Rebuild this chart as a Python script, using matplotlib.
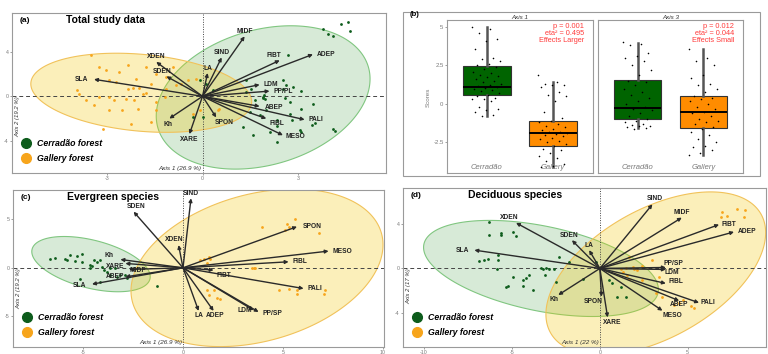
import numpy as np
import matplotlib
matplotlib.use('Agg')
import matplotlib.pyplot as plt
import matplotlib.transforms as mtransforms
from matplotlib.lines import Line2D
from matplotlib.patches import Rectangle
from matplotlib.colors import to_rgba

plt.rcParams['font.family'] = ['Liberation Sans', 'DejaVu Sans']
plt.rcParams['axes.unicode_minus'] = False

# ---------------- data ----------------
# panel (a) total study data: variable loadings
a_names = ['MIDF', 'SIND', 'LA', 'FIBT', 'ADEP', 'LDM', 'PP/PL', 'ABEP', 'PALI',
           'FIBL', 'MESO', 'SPON', 'XARE', 'Kh', 'SLA', 'SDEN', 'XDEN']
a_x = [1.32, 0.60, 0.16, 2.42, 3.46, 1.79, 2.10, 1.79, 3.20, 2.00, 2.52, 0.43, -0.41, -1.04, -3.40, -1.13, -1.45]
a_y = [5.40, 3.50, 2.10, 3.24, 3.78, 1.05, 0.47, -0.90, -2.10, -2.00, -3.50, -1.90, -3.40, -2.00, 1.53, 1.80, 3.10]
a_cer_x = [3.78, 4.33, 4.57, 4.62, 3.94, 4.10, 2.68, 2.53, 2.63, 2.84, 3.10, 1.90, 1.95, 1.37, 1.53, 1.64,
           2.58, 2.74, 1.48, 2.32, 2.32, 2.79, 3.05, 3.10, 3.42, 3.52, 4.10, 4.15, 1.58, 2.32, 2.53, 0.32,
           0.01, -0.30, -0.09, 0.12, 1.37, 2.00, 1.79, 1.27, 2.74, 2.11, 3.10, 3.47, 1.92, 1.88]
a_cer_y = [6.10, 6.49, 6.70, 5.89, 5.65, 5.41, 3.69, 1.44, 0.99, 0.84, 0.45, -0.06, -0.21, 0.39, 0.69, -0.36,
           -0.15, -0.51, -1.41, -2.16, -2.70, -2.16, -3.06, -3.21, -2.61, -2.40, -2.91, -3.12, -3.51, -4.11, 0.69, 0.54,
           -1.86, -1.86, 1.44, 1.14, 1.44, -1.26, -1.71, -2.76, -1.56, -3.21, -1.11, -0.66, 0.09, -0.15]
a_gal_x = [-3.50, -3.24, -3.03, -2.35, -2.92, -2.71, -2.09, -1.61, -1.46, -2.35, -2.19, -1.98, -1.88, -1.77,
           -3.40, -3.24, -2.92, -2.77, -2.40, -2.14, -1.46, -3.92, -3.87, -3.64, -3.13, -2.24, -1.61, -1.46,
           -1.19, -1.14, -0.83, -0.67, -0.46, 0.48, 0.53, -2.51, -2.03, -2.92, -1.14, -2.61, -1.77, -0.93,
           -0.20, -0.09, -0.30]
a_gal_y = [3.69, 2.64, 2.34, 2.79, 1.44, 1.29, 1.59, 1.14, 2.04, 0.69, 0.78, 0.78, 0.24, 0.30,
           -0.81, -0.06, -0.06, -0.36, -0.21, -0.36, -0.51, 0.54, 0.24, -0.36, -2.91, -2.46, -2.31, -1.26,
           -0.06, 0.69, 0.99, 1.14, 1.44, -1.26, -1.11, -1.26, -1.11, -1.26, 1.74, 2.19, 2.64, 2.64,
           1.59, -1.26, -1.56]
# ellipses: centre x, centre y, x half-extent, y half-extent, tilt (deg)
a_ell_cer = (1.90, -0.10, 3.35, 6.45, 15)
a_ell_gal = (-1.92, 0.32, 3.46, 3.56, -13)

# panel (c) evergreen species
c_names = ['SIND', 'SDEN', 'XDEN', 'SPON', 'MESO', 'FIBL', 'FIBT', 'PALI', 'PP/SP', 'LDM',
           'ADEP', 'LA', 'Kh', 'XARE', 'MIDF', 'ABEP', 'SLA']
c_x = [0.40, -2.47, -0.22, 5.70, 7.28, 5.28, 1.53, 6.03, 3.78, 3.53, 1.53, 0.78, -3.13, -2.88, -2.70, -2.88, -4.55]
c_y = [7.15, 5.77, 2.34, 4.23, 1.72, 0.62, -0.24, -2.13, -4.54, -4.36, -4.43, -4.43, 0.86, 0.45, -0.17, -0.93, -1.68]
c_cer_x = [-6.63, -6.38, -5.88, -5.80, -5.63, -5.30, -5.05, -5.38, -5.05, -4.63, -4.55, -4.67, -4.47, -4.30,
           -4.13, -4.05, -3.97, -3.80, -3.63, -3.38, -3.13, -2.80, -5.13, -4.13, -1.30, -3.63, -3.30, -2.88]
c_cer_y = [0.89, 1.03, 0.89, 0.79, 1.31, 1.20, 1.41, 0.69, 0.62, 0.34, 0.17, 0.03, 0.79, 0.62,
           0.79, 0.10, -0.24, -0.41, -0.07, 0.03, -0.69, -1.00, -1.20, -1.44, -1.89, -0.76, -0.93, -0.76]
c_gal_x = [5.62, 5.20, 5.28, 5.12, 3.95, 6.78, 0.87, 1.03, 1.28, 1.37, 1.20, 3.45, 3.53, 3.62,
           4.78, 5.28, 5.70, 5.70, 7.12, 7.03, 1.20, 1.53, 1.70, 1.87, 1.28]
c_gal_y = [4.98, 4.47, 4.23, 3.88, 4.23, 3.54, 0.79, 0.86, 1.07, 0.89, 0.52, 0.03, -0.07, 0.00,
           -2.30, -2.13, -2.30, -2.71, -2.30, -2.65, -2.30, -2.23, -3.06, -3.16, -2.82]
c_ell_cer = (-4.60, 0.38, 2.96, 2.84, -27)
c_ell_gal = (3.70, 0.00, 6.30, 8.10, 17)

# panel (d) deciduous species
d_names = ['SIND', 'MIDF', 'FIBT', 'ADEP', 'PP/SP', 'LDM', 'FIBL', 'ABEP', 'PALI', 'MESO',
           'XARE', 'SPON', 'Kh', 'SLA', 'XDEN', 'SDEN', 'LA']
d_x = [2.99, 4.66, 6.78, 7.63, 3.75, 3.75, 3.75, 4.51, 5.64, 3.56, 0.44, 0.09, -2.37, -7.14, -4.77, -1.59, -0.61]
d_y = [5.74, 4.55, 3.93, 3.27, 0.09, -0.09, -1.34, -2.89, -3.07, -3.78, -4.38, -2.53, -2.38, 1.64, 4.08, 2.53, 1.64]
d_cer_x = [-6.29, -6.33, -5.63, -5.63, -4.96, -4.77, -6.86, -6.57, -6.38, -5.81, -5.81, -5.87, -4.96, -4.39,
           -4.20, -4.02, -5.34, -5.25, -4.39, -3.83, -3.35, -3.26, -3.07, -2.92, -2.59, -3.11, -2.50, -2.31,
           -0.23, -0.98, 0.53, 0.68, 1.00, 1.48, 1.19, -1.74]
d_cer_y = [4.17, 2.98, 3.13, 2.98, 3.27, 2.89, 0.68, 0.74, 0.89, 1.19, 0.74, -0.09, -0.74, -1.04,
           -0.89, -0.60, -1.70, -1.58, -1.58, -1.93, 0.00, -0.09, 0.00, -0.09, -0.09, -0.60, -1.19, 0.98,
           0.60, -0.92, -1.04, -1.34, -2.59, -2.59, -1.64, 0.60]
d_gal_x = [6.97, 7.25, 7.82, 8.20, 8.26, 6.88, 1.67, 2.99, 2.42, 1.95, 1.86, 1.48, 1.19, 1.29,
           1.57, 1.67, 3.37, 2.42, 3.18, 3.56, 4.51, 5.17, 5.36, 4.70, 4.22, 2.14]
d_gal_y = [5.06, 4.67, 5.36, 4.61, 5.27, 4.61, 1.04, 0.74, 0.21, -0.09, 0.15, 0.00, -0.09, -0.30,
           -0.60, -0.98, -0.74, -1.04, -2.23, -2.59, -3.13, -3.36, -3.57, -2.83, -3.27, -0.15]
d_ell_cer = (-3.35, 0.00, 6.68, 4.30, -26)
d_ell_gal = (3.18, -0.45, 6.25, 7.30, 30)

# panel (b) PCA scores by forest type
b_groups = ['Cerradão', 'Gallery']
b_axes = ['Axis 1', 'Axis 3']
# whislo, q1, median, q3, whishi
b_stats = {
    'Axis 1': [(-0.8, 0.55, 1.1, 2.45, 5.0), (-4.1, -2.7, -1.9, -1.1, 1.4)],
    'Axis 3': [(-1.56, -1.0, -0.27, 1.56, 3.96), (-3.3, -1.55, -0.53, 0.52, 3.6)],
}
b_scores = {
    'Axis 1': [
        [5.0, 4.85, 4.6, 4.2, 4.1, 3.6, 3.0, 2.9, 2.8, 2.6, 2.5, 2.4, 2.3, 2.1, 2.0, 1.9, 1.8, 1.75,
         1.6, 1.5, 1.4, 1.3, 1.2, 1.15, 1.1, 1.05, 1.0, 0.9, 0.85, 0.7, 0.6, 0.5, 0.4, 0.35, 0.3,
         0.2, -0.2, -0.3, -0.4, -0.5, -0.7, -0.8],
        [1.9, 1.4, 1.3, 1.25, 1.2, 1.1, 0.8, 0.6, 0.5, 0.2, -0.5, -0.9, -1.1, -1.2, -1.3, -1.4, -1.5,
         -1.6, -1.7, -1.8, -1.85, -1.9, -1.95, -2.0, -2.1, -2.2, -2.3, -2.4, -2.5, -2.6, -2.7, -2.9,
         -3.0, -3.2, -3.4, -3.5, -3.7, -3.9, -4.0, -4.1]],
    'Axis 3': [
        [4.0, 3.9, 3.8, 3.3, 3.1, 3.0, 2.8, 2.5, 2.2, 1.9, 1.5, 1.4, 1.2, 1.0, 0.8, 0.6, 0.4, 0.2,
         0.0, -0.2, -0.3, -0.4, -0.6, -0.8, -1.0, -1.1, -1.2, -1.3, -1.35, -1.4, -1.45, -1.5, -1.55, -1.6],
        [3.6, 3.0, 2.8, 2.5, 1.9, 1.7, 1.3, 1.2, 1.0, 0.8, 0.5, 0.4, 0.3, 0.2, 0.0, -0.2, -0.3, -0.5,
         -0.6, -0.8, -1.0, -1.1, -1.2, -1.3, -1.5, -1.6, -1.8, -2.0, -2.3, -2.5, -2.7, -2.8, -3.0, -3.2, -3.3]],
}
b_text = {
    'Axis 1': ['p = 0.001', 'eta² = 0.495', 'Effects Larger'],
    'Axis 3': ['p = 0.012', 'eta² = 0.044', 'Effects Small'],
}

# label placement (ha, va, dx, dy in points)
a_lab = {'MIDF': ('center', 'bottom', 0, 1), 'SIND': ('center', 'bottom', 0, 1), 'LA': ('center', 'bottom', 0, 1),
         'FIBT': ('right', 'bottom', 1, 1), 'ADEP': ('left', 'center', 3, 0), 'LDM': ('left', 'center', 3, 0),
         'PP/PL': ('left', 'center', 3, 0), 'ABEP': ('left', 'center', 4, -1), 'PALI': ('left', 'center', 3, 0),
         'FIBL': ('left', 'top', 2, -1), 'MESO': ('left', 'center', 2, -1), 'SPON': ('left', 'top', -1, -1),
         'XARE': ('center', 'top', 0, -1.5), 'Kh': ('center', 'top', -1, -1.5), 'SLA': ('right', 'center', -4, 0),
         'SDEN': ('right', 'bottom', 4, 1), 'XDEN': ('center', 'bottom', 0, 1.5)}
c_lab = {'SIND': ('center', 'bottom', 0, 1), 'SDEN': ('center', 'bottom', 2, 1.5), 'XDEN': ('center', 'bottom', -3, 1.5),
         'SPON': ('left', 'center', 4, 0), 'MESO': ('left', 'center', 3, 0), 'FIBL': ('left', 'center', 3, 0),
         'FIBT': ('left', 'top', 2, -1), 'PALI': ('left', 'center', 3, 0), 'PP/SP': ('left', 'center', 3, -1),
         'LDM': ('right', 'center', -1, 0), 'ADEP': ('center', 'top', 1, -1), 'LA': ('center', 'top', 0, -1),
         'Kh': ('right', 'bottom', -5, 0.5), 'XARE': ('right', 'top', -1, 0.5), 'MIDF': ('left', 'center', 0, -1),
         'ABEP': ('right', 'center', -1, 0), 'SLA': ('right', 'center', -4, -1)}
d_lab = {'SIND': ('center', 'bottom', 2, 1.5), 'MIDF': ('center', 'bottom', 0, 1.5), 'FIBT': ('left', 'center', 2, 0),
         'ADEP': ('left', 'center', 3, 0), 'PP/SP': ('left', 'bottom', -2, 0), 'LDM': ('left', 'top', -1, 0),
         'FIBL': ('left', 'bottom', 2, -1), 'ABEP': ('center', 'top', 0, 0), 'PALI': ('left', 'center', 1, 0),
         'MESO': ('center', 'top', 7, -1), 'XARE': ('center', 'top', 3, -1), 'SPON': ('right', 'top', 1, -1),
         'Kh': ('center', 'top', -3, -1), 'SLA': ('right', 'center', -4, 0), 'XDEN': ('center', 'bottom', -5, 1),
         'SDEN': ('center', 'bottom', -2, 1), 'LA': ('center', 'bottom', 0, 1)}

CER = '#0d5c1c'
GAL = '#f7a51c'
FRAME = '#9a9a9a'
TICK = '#7a7a7a'
ARROW = '#2a2a2a'

W, H = 768, 354
fig = plt.figure(figsize=(W / 100, H / 100), dpi=100)
fig.patch.set_facecolor('white')


def px_axes(l, t, r, b):
    return fig.add_axes([l / W, 1 - b / H, (r - l) / W, (b - t) / H])


def draw_ellipse(ax, e, color, edge, alpha):
    cx, cy, rx, ry, phi = e
    t = np.linspace(0, 2 * np.pi, 300)
    ex = cx + rx * np.cos(t)
    ey = cy + ry * np.sin(t + np.radians(phi))
    ax.fill(ex, ey, facecolor=to_rgba(color, alpha), edgecolor=edge, lw=0.8, zorder=1)


def biplot(ax, names, lx, ly, labs, cx, cy, gx, gy, ell_c, ell_g, xlim, ylim, xticks, yticks,
           letter, title, title_x, xlab, ylab):
    draw_ellipse(ax, ell_c, '#3a9a3a', '#80c680', 0.2)
    draw_ellipse(ax, ell_g, '#f2c500', '#f1c25a', 0.27)
    ax.axhline(0, color='#444444', lw=0.7, ls=(0, (4, 3)), zorder=2)
    ax.axvline(0, color='#444444', lw=0.7, ls=(0, (1, 1.5)), zorder=2)
    ax.scatter(cx, cy, s=4, color=CER, zorder=3, lw=0)
    ax.scatter(gx, gy, s=4, color=GAL, zorder=3, lw=0)
    for n, x, y in zip(names, lx, ly):
        ax.annotate('', xy=(x, y), xytext=(0, 0),
                    arrowprops=dict(arrowstyle='-|>', color=ARROW, lw=1.0, mutation_scale=5,
                                    shrinkA=0, shrinkB=0), zorder=4)
        ha, va, dx, dy = labs[n]
        ax.annotate(n, xy=(x, y), xytext=(dx, dy), textcoords='offset points', ha=ha, va=va,
                    fontsize=4.8, fontweight='bold', color='#222222', zorder=5)
    ax.set_xlim(*xlim)
    ax.set_ylim(*ylim)
    ax.set_xticks(xticks)
    ax.set_yticks(yticks)
    ax.set_xticklabels([str(v) for v in xticks])
    ax.set_yticklabels([str(v) for v in yticks])
    ax.tick_params(labelsize=3.8, colors=TICK, length=1.5, pad=0.8, width=0.5)
    for s in ax.spines.values():
        s.set_color(FRAME)
        s.set_linewidth(0.8)
    ax.text(0.02, 0.955, letter, transform=ax.transAxes, fontsize=6, fontweight='bold', va='center')
    ax.text(title_x, 0.955, title, transform=ax.transAxes, fontsize=7.5, fontweight='bold', va='center')
    tx = mtransforms.blended_transform_factory(ax.transData, ax.transAxes)
    ax.text(-0.05, 0.012, xlab, transform=tx, ha='right', va='bottom', fontsize=4.6, style='italic', color='#333333')
    ty = mtransforms.blended_transform_factory(ax.transAxes, ax.transData)
    ax.text(0.008, 0, ylab, transform=ty, ha='left', va='top', rotation=90, fontsize=4.3, style='italic',
            color='#333333')
    handles = [Line2D([], [], marker='o', ls='', color=CER, markersize=7),
               Line2D([], [], marker='o', ls='', color=GAL, markersize=7)]
    ax.legend(handles, ['Cerradão forest', 'Gallery forest'], loc='lower left', bbox_to_anchor=(0.005, 0.02),
              frameon=False, prop=dict(size=6.3, weight='bold', style='italic'), labelspacing=0.65,
              handletextpad=0.7, handlelength=1.2, borderpad=0.3)


ax_a = px_axes(12, 13, 386, 173)
biplot(ax_a, a_names, a_x, a_y, a_lab, a_cer_x, a_cer_y, a_gal_x, a_gal_y, a_ell_cer, a_ell_gal,
       (-5.97, 5.75), (-6.9, 7.5), [-3, 0, 3], [-4, 0, 4], '(a)', 'Total study data', 0.144,
       'Axis 1 (26.9 %)', 'Axis 2 (19.2 %)')

ax_c = px_axes(13, 190, 384, 347)
biplot(ax_c, c_names, c_x, c_y, c_lab, c_cer_x, c_cer_y, c_gal_x, c_gal_y, c_ell_cer, c_ell_gal,
       (-8.5, 10.05), (-8.14, 8.0), [-5, 0, 5, 10], [-5, 0, 5], '(c)', 'Evergreen species', 0.146,
       'Axis 1 (26.9 %)', 'Axis 2 (19.2 %)')

ax_d = px_axes(403, 188, 766, 347)
biplot(ax_d, d_names, d_x, d_y, d_lab, d_cer_x, d_cer_y, d_gal_x, d_gal_y, d_ell_cer, d_ell_gal,
       (-11.2, 9.45), (-7.03, 7.2), [-10, -5, 0, 5], [-4, 0, 4], '(d)', 'Deciduous species', 0.18,
       'Axis 1 (22 %)', 'Axis 2 (17 %)')

# ---------------- panel (b) ----------------
fig.add_artist(Rectangle((403 / W, 1 - 176 / H), (760 - 403) / W, (176 - 12) / H, transform=fig.transFigure,
                         fill=False, ec=FRAME, lw=0.8))
fig.text(410 / W, 1 - 15 / H, '(b)', fontsize=5.5, fontweight='bold', va='center')
fig.text(428 / W, 1 - 97 / H, 'Scores', rotation=90, fontsize=4.5, color=TICK, ha='center', va='center')

facet_px = [(447, 593), (598, 743)]
box_colors = ['#006400', '#ff8c00']
for k, axis_name in enumerate(b_axes):
    l, r = facet_px[k]
    ax = px_axes(l, 20, r, 173)
    stats = []
    for (lo, q1, med, q3, hi), lab in zip(b_stats[axis_name], b_groups):
        stats.append(dict(whislo=lo, q1=q1, med=med, q3=q3, whishi=hi, label=lab))
    bp = ax.bxp(stats, positions=[1, 2], widths=0.72, patch_artist=True, showfliers=False, showcaps=False,
                boxprops=dict(lw=0.8, edgecolor='#333333'),
                whiskerprops=dict(color='#555555', lw=1.8),
                medianprops=dict(color='black', lw=1.4))
    for patch, col in zip(bp['boxes'], box_colors):
        patch.set_facecolor(col)
    for i, vals in enumerate(b_scores[axis_name]):
        n = len(vals)
        jit = ((np.arange(n) * 0.618034) % 1 - 0.5) * 0.45
        ax.scatter(i + 1 + jit, vals, s=1.3, color='black', zorder=5, lw=0)
    ax.set_xlim(0.4, 2.6)
    ax.set_ylim(-4.48, 5.45)
    ax.set_xticks([])
    for i, lab in enumerate(b_groups):
        ax.text(i + 1, 0.01, lab, transform=mtransforms.blended_transform_factory(ax.transData, ax.transAxes),
                ha='center', va='bottom', fontsize=5.5, style='italic', color=TICK)
    if k == 0:
        ax.set_yticks([-2.5, 0, 2.5, 5])
        ax.set_yticklabels(['-2.5', '0', '2.5', '5'])
    else:
        ax.set_yticks([])
    ax.tick_params(labelsize=4.3, colors=TICK, length=1.5, pad=1, width=0.5)
    for s in ax.spines.values():
        s.set_color(FRAME)
        s.set_linewidth(0.8)
    ax.set_title(axis_name, fontsize=4.5, style='italic', pad=1, color='#333333')
    for j, line in enumerate(b_text[axis_name]):
        ax.text(0.94, 0.955 - j * 0.045, line, transform=ax.transAxes, ha='right', va='center',
                fontsize=5.3, color='#ff3b3b')

fig.savefig('out.png', dpi=100, facecolor='white')
